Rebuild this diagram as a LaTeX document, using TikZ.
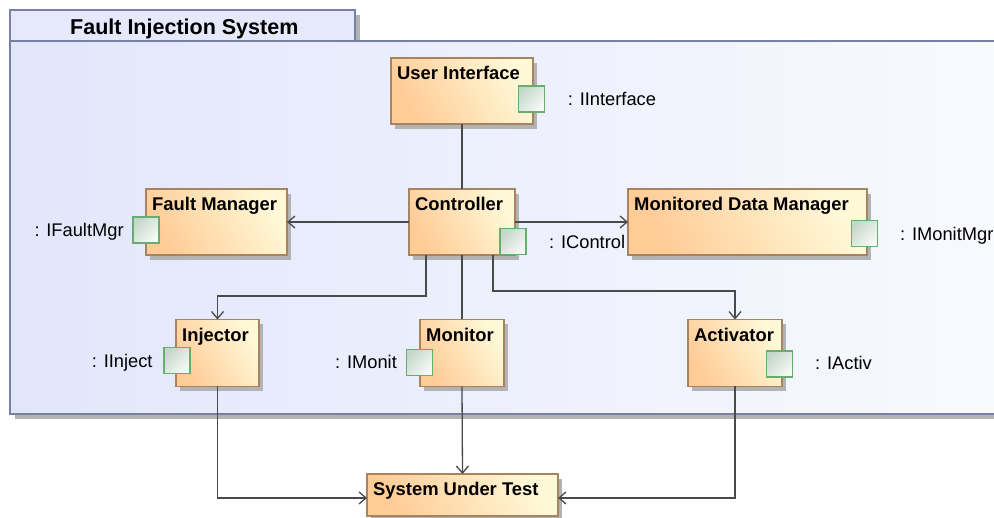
\documentclass[tikz,border=0pt]{standalone}
\usepackage{fontspec}
\setmainfont{Liberation Sans}
\usetikzlibrary{arrows.meta,shadows,calc}
\definecolor{frameline}{HTML}{7880A8}
\definecolor{frameleft}{HTML}{E1E6FB}
\definecolor{frameright}{HTML}{F9FAFE}
\definecolor{tabfill}{HTML}{E5E9FB}
\definecolor{boxline}{HTML}{A6845F}
\definecolor{boxleft}{HTML}{FFCB96}
\definecolor{boxright}{HTML}{FFF9D8}
\definecolor{portline}{HTML}{68AC6E}
\definecolor{portdark}{HTML}{C5D7CA}
\definecolor{portlight}{HTML}{F7FAF7}
\definecolor{shadowgray}{HTML}{B3B3B3}
\definecolor{wire}{HTML}{4A4A4A}
\begin{document}
\begin{tikzpicture}[x=1pt,y=-1pt,
  boxshadow/.style={drop shadow={shadow xshift=4pt, shadow yshift=-5pt, fill=shadowgray, opacity=1}},
  comp/.style={draw=boxline, line width=1.4pt, left color=boxleft, right color=boxright,
    shading angle=120, inner sep=0pt, outer sep=0pt, minimum height=66pt, boxshadow},
  compname/.style={font=\fontsize{18.4}{22}\selectfont\bfseries, inner sep=0pt, anchor=base west},
  port/.style={draw=portline, line width=1.3pt, left color=portdark, right color=portlight,
    shading angle=45, inner sep=0pt, minimum width=26pt, minimum height=26pt},
  iflabel/.style={font=\fontsize{18.3}{22}\selectfont, inner sep=0pt, anchor=base west},
  wire/.style={draw=wire, line width=1.3pt},
  arrowwire/.style={wire, -{Straight Barb[length=7pt,width=12pt]}},
  frame/.style={draw=frameline, line width=2pt, inner sep=0pt, outer sep=0pt,
    drop shadow={shadow xshift=5pt, shadow yshift=-5pt, fill=shadowgray, opacity=1}}
]
\clip (0,0) rectangle (994,518);
\fill[white] (0,0) rectangle (994,518);

% enclosing system frame with its name tab
\node[frame, fill=tabfill, anchor=north west, minimum width=345pt, minimum height=31pt] (fistab) at (10,10) {};
\node[frame, left color=frameleft, right color=frameright, anchor=north west,
  minimum width=1000pt, minimum height=373pt] (fis) at (10,41) {};
\node[font=\fontsize{21.5}{24}\selectfont\bfseries, inner sep=0pt, anchor=base west] (fistitle) at (70,35) {Fault Injection System};

% components
\node[comp, minimum width=142pt] (ui)  at (462,91)    {};
\node[comp, minimum width=141pt] (fm)  at (216.5,222) {};
\node[comp, minimum width=106pt] (ctl) at (462,222)   {};
\node[comp, minimum width=239pt] (mdm) at (747.5,222) {};
\node[comp, minimum width=83pt, minimum height=67pt] (inj) at (217.5,353) {};
\node[comp, minimum width=84pt, minimum height=67pt] (mon) at (462,353) {};
\node[comp, minimum width=94pt, minimum height=67pt] (act) at (735,353) {};
\node[comp, minimum width=191pt, minimum height=42pt] (sut) at (462.5,495) {};

\node[compname] (ui-n)  at ($(ui.north west)+(6,22)$)  {User Interface};
\node[compname] (fm-n)  at ($(fm.north west)+(6,22)$)  {Fault Manager};
\node[compname] (ctl-n) at ($(ctl.north west)+(6,22)$) {Controller};
\node[compname] (mdm-n) at ($(mdm.north west)+(6,22)$) {Monitored Data Manager};
\node[compname] (inj-n) at ($(inj.north west)+(6,22)$) {Injector};
\node[compname] (mon-n) at ($(mon.north west)+(6,22)$) {Monitor};
\node[compname] (act-n) at ($(act.north west)+(6,22)$) {Activator};
\node[compname] (sut-n) at ($(sut.north west)+(6,22)$) {System Under Test};

% ports
\node[port] (ui-p)  at (531.7,99)   {};
\node[port] (fm-p)  at (146,230)    {};
\node[port] (ctl-p) at (513,241.7)  {};
\node[port] (mdm-p) at (864.7,233.3){};
\node[port] (inj-p) at (177,360.7)  {};
\node[port] (mon-p) at (419.7,362.3){};
\node[port] (act-p) at (779.7,364)  {};

% port types
\node[iflabel] (ui-l)  at (567.7,105.5) {: IInterface};
\node[iflabel] (fm-l)  at (34.3,236.7)  {: IFaultMgr};
\node[iflabel] (ctl-l) at (549,248.3)   {: IControl};
\node[iflabel] (mdm-l) at (900,240.7)   {: IMonitMgr};
\node[iflabel] (inj-l) at (91.7,367.3)  {: IInject};
\node[iflabel] (mon-l) at (335,369)     {: IMonit};
\node[iflabel] (act-l) at (815,370)     {: IActiv};

% connectors
\draw[wire] (ui.south) -- (ctl.north);
\draw[arrowwire] (ctl.west) -- (fm.east);
\draw[arrowwire] (ctl.east) -- (mdm.west);
\draw[arrowwire] ([xshift=-36pt]ctl.south) -- ++(0,41) -| (inj.north);
\draw[wire] (ctl.south) -- (mon.north);
\draw[arrowwire] ([xshift=31pt]ctl.south) -- ++(0,36) -| (act.north);
\draw[arrowwire] (inj.south) |- ([yshift=-3pt]sut.west);
\draw[arrowwire] (mon.south) -- (sut.north);
\draw[arrowwire] (act.south) |- ([yshift=-3pt]sut.east);
\end{tikzpicture}
\end{document}
